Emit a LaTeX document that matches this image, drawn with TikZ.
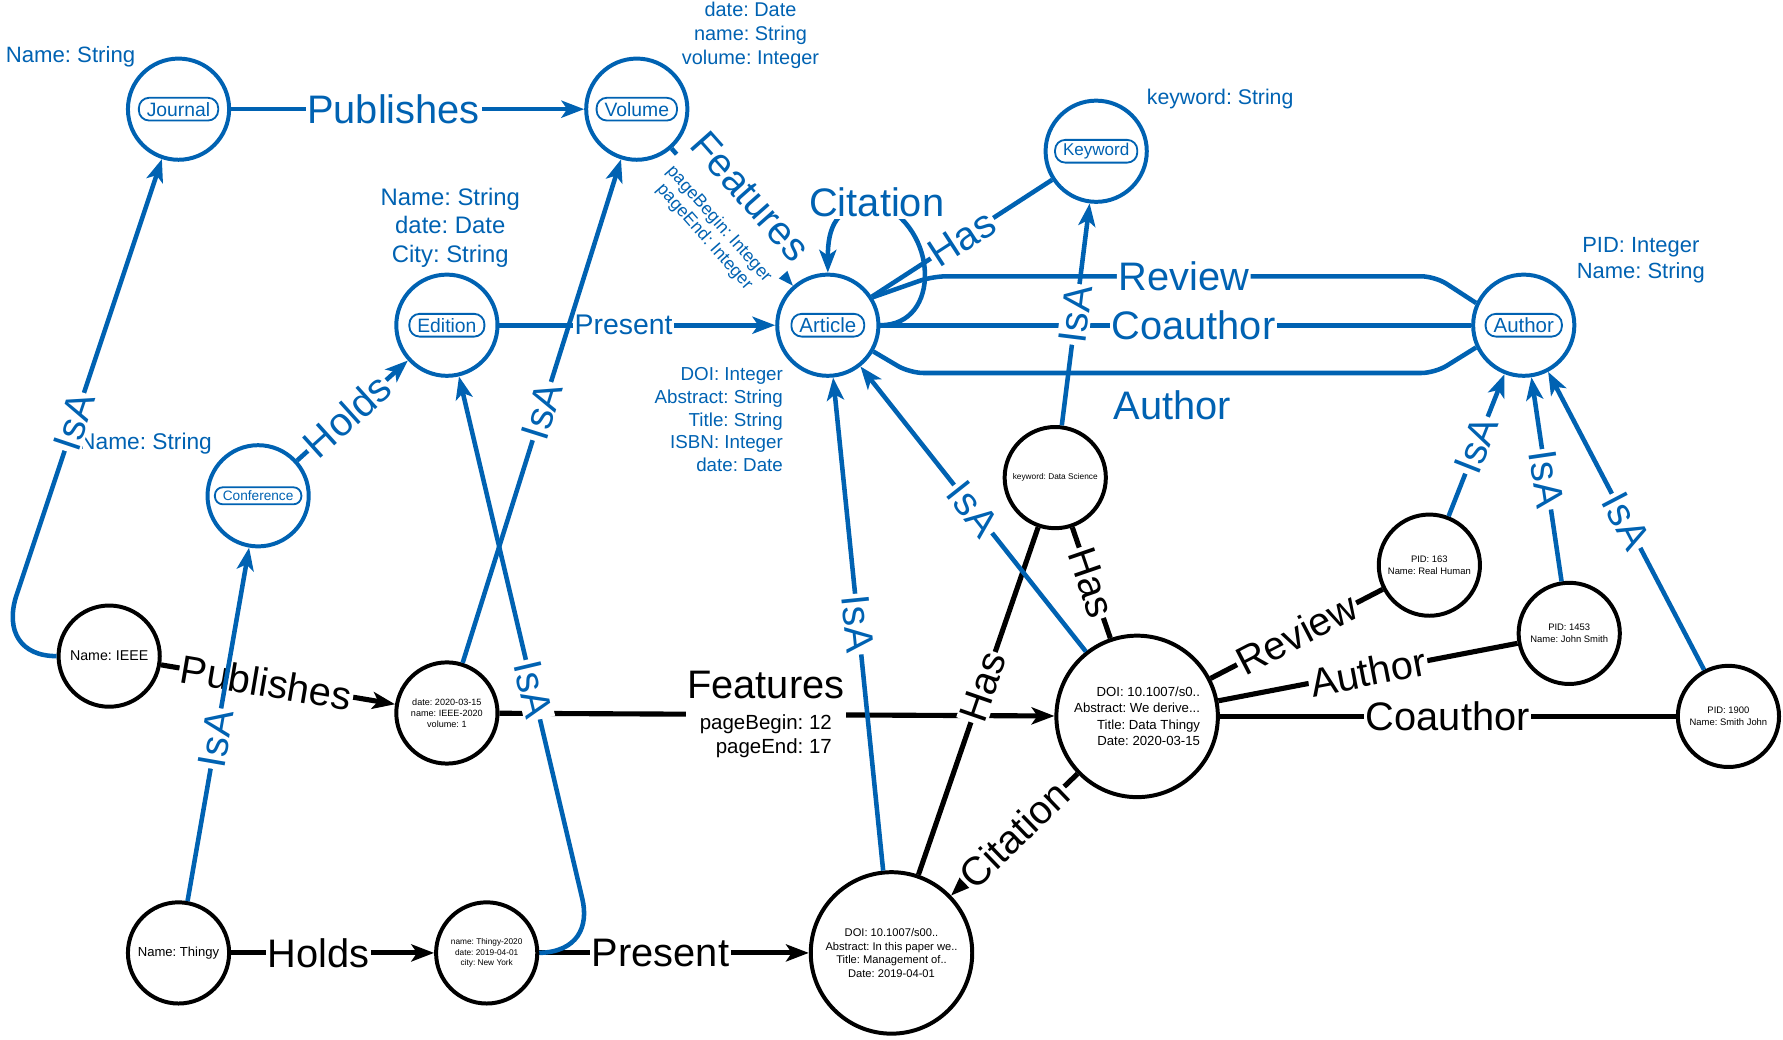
\documentclass[tikz,border=0pt]{standalone}
\usepackage{fontspec}
\setmainfont{Liberation Sans}
\frenchspacing
\usetikzlibrary{arrows.meta}
\definecolor{schemablue}{RGB}{0,98,178}
\newcommand{\fsz}[2]{\fontsize{#1}{#2}\selectfont}

\begin{document}
\begin{tikzpicture}[x=1pt,y=-1pt,
    schema/.style={circle,draw=schemablue,line width=3.5pt,minimum size=89pt,inner sep=0pt},
    inst/.style={circle,draw=black,line width=3.5pt,minimum size=89pt,inner sep=0pt,align=center},
    bigInst/.style={inst,minimum size=142pt},
    pill/.style={draw=schemablue,text=schemablue,rounded corners=9pt,line width=1.6pt,
        inner xsep=7pt,inner ysep=1.5pt,minimum height=20pt,font=\fsz{17}{17}},
    attr/.style={text=schemablue,align=center},
    blueLine/.style={schemablue,line width=4pt},
    blackLine/.style={black,line width=4.5pt},
    arr/.style={-{Stealth[length=20pt,width=15pt,inset=5pt]}},
    lbl/.style={fill=white,inner sep=1.5pt,font=\fsz{35}{38}},
    isa/.style={lbl,sloped}]
\useasboundingbox (0,0) rectangle (1568,914);

% schema nodes
\node [schema] (journal) at (157,96) {};
\node [pill] (journalTag) at (journal) {Journal};
\node [schema] (volume) at (560,96) {};
\node [pill] (volumeTag) at (volume) {Volume};
\node [schema] (keyword) at (964,133) {};
\node [pill,font=\fsz{15}{15}] (keywordTag) at (keyword) {Keyword};
\node [schema] (edition) at (393,286) {};
\node [pill] (editionTag) at (edition) {Edition};
\node [schema] (article) at (728,286) {};
\node [pill,font=\fsz{18}{18}] (articleTag) at (article) {Article};
\node [schema] (author) at (1340,286) {};
\node [pill,font=\fsz{18}{18}] (authorTag) at (author) {Author};
\node [schema] (conference) at (227,436) {};
\node [pill,font=\fsz{12}{12},rounded corners=7pt,minimum height=15pt] (conferenceTag) at (conference) {Conference};

% attributes
\node [attr,font=\fsz{19.5}{23}] (journalAttr) at (62,50) {Name: String};
\node [attr,font=\fsz{17.5}{21}] (volumeAttr) at (660,31) {date: Date\\name: String\\volume: Integer};
\node [attr,font=\fsz{21}{25}] (editionAttr) at (396,200) {Name: String\\date: Date\\City: String};
\node [attr,font=\fsz{20}{24}] (conferenceAttr) at (128,390) {Name: String};
\node [attr,font=\fsz{18.7}{22}] (keywordAttr) at (1073,87) {keyword: String};
\node [attr,font=\fsz{16.5}{20},align=right,anchor=east] (articleAttr) at (692,369) {DOI: Integer\\Abstract: String\\Title: String\\ISBN: Integer\\date: Date};
\node [attr,font=\fsz{19.3}{23}] (authorAttr) at (1443,229) {PID: Integer\\Name: String};

% instances
\node [inst,font=\fsz{12.5}{15}] (ieee) at (96,577) {Name: IEEE};
\node [inst,font=\fsz{8}{9.7}] (vol2020) at (393,627) {date: 2020-03-15\\name: IEEE-2020\\volume: 1};
\node [inst,font=\fsz{11.5}{14}] (thingy) at (157,838) {Name: Thingy};
\node [inst,font=\fsz{7.3}{9.5}] (thingy2020) at (428,838) {name: Thingy-2020\\date: 2019-04-01\\city: New York};
\node [bigInst,font=\fsz{9.8}{12}] (paperOld) at (784,838) {DOI: 10.1007/s00..\\Abstract: In this paper we..\\Title: Management of..\\Date: 2019-04-01};
\node [bigInst,font=\fsz{11.6}{14.5},align=right] (paperNew) at (1000,630) {DOI: 10.1007/s0..\\Abstract: We derive...\\Title: Data Thingy\\Date: 2020-03-15};
\node [inst,font=\fsz{7.3}{9}] (dataScience) at (928,420) {keyword: Data Science};
\node [inst,font=\fsz{8.3}{11}] (realHuman) at (1257,497) {PID: 163\\Name: Real Human};
\node [inst,font=\fsz{8.3}{11}] (johnSmith) at (1380,557) {PID: 1453\\Name: John Smith};
\node [inst,font=\fsz{8.3}{11}] (smithJohn) at (1520,630) {PID: 1900\\Name: Smith John};

% instance relations
\draw [blackLine,arr] (ieee) -- node[lbl,sloped,pos=0.45]{Publishes} (vol2020);
\draw [blackLine,arr] (vol2020) -- node[lbl,pos=0.48]{\begin{tabular}{@{}c@{}}Features\\
    \fsz{18}{21}\begin{tabular}{@{}r@{}}pageBegin: 12\\pageEnd: 17\end{tabular}\end{tabular}} (paperNew);
\draw [blackLine,arr] (thingy) -- node[lbl,pos=0.43]{Holds} (thingy2020);
\draw [blackLine,arr] (thingy2020) -- node[lbl,pos=0.45]{Present} (paperOld);
\draw [blackLine] (dataScience) -- node[lbl,sloped]{Has} (paperNew);
\draw [blackLine] (dataScience) -- node[lbl,sloped,pos=0.46]{Has} (paperOld);
\draw [blackLine,arr] (paperNew) -- node[lbl,sloped]{Citation} (paperOld);
\draw [blackLine] (paperNew) -- node[lbl,sloped]{Review} (realHuman);
\draw [blackLine] (paperNew) -- node[lbl,sloped]{Author} (johnSmith);
\draw [blackLine] (paperNew) -- node[lbl]{Coauthor} (smithJohn);

% schema relations
\draw [blueLine,arr] (journal) -- node[lbl,pos=0.46]{Publishes} (volume);
\draw [blueLine,arr] (edition) -- node[lbl,pos=0.45,font=\fsz{25}{28}]{Present} (article);
\draw [blueLine,arr] (volume) -- node[lbl,sloped,pos=0.48]{\begin{tabular}{@{}c@{}}Features\\
    \fsz{15.5}{17}\begin{tabular}{@{}c@{}}pageBegin: Integer\\pageEnd: Integer\end{tabular}\end{tabular}} (article);
\draw [blueLine,arr] (article.east) .. controls (828,286) and (826,200) .. (771,178)
    node[lbl] (citationLbl) {Citation} .. controls (735,180) and (728,200) .. (article.north);
\draw [blueLine,rounded corners=12pt] (article.32) -- (820,243) -- node[lbl]{Review} (1262,243) -- (author.155);
\draw [blueLine] (article) -- node[lbl,sloped]{Has} (keyword);
\draw [blueLine] (article) -- node[lbl,pos=0.53]{Coauthor} (author);
\draw [blueLine,rounded corners=12pt] (article.-30) -- (800,328) -- node[lbl,below=12pt]{Author} (1262,328) -- (author.-155);
\draw [blueLine,arr] (conference) -- node[lbl,sloped,pos=0.45]{Holds} (edition);

% IsA links
\draw [blueLine,arr] (dataScience) -- node[isa]{IsA} (keyword);
\draw [blueLine,arr] (realHuman) -- node[isa]{IsA} (author);
\draw [blueLine,arr] (johnSmith) -- node[isa]{IsA} (author);
\draw [blueLine,arr] (smithJohn) -- node[isa]{IsA} (author);
\draw [blueLine,arr] (paperNew) -- node[isa]{IsA} (article);
\draw [blueLine,arr] (paperOld) -- node[isa]{IsA} (article);
\draw [blueLine,arr] (vol2020) -- node[isa]{IsA} (volume);
\draw [blueLine,arr] (thingy2020.east) .. controls (508,837) and (518,815) .. (512,790) -- node[isa,pos=0.4]{IsA} (edition);
\draw [blueLine,arr] (thingy) -- node[isa,pos=0.46]{IsA} (conference);
\draw [blueLine,arr] (ieee.west) .. controls (18,577) and (5,555) .. (14,525) -- node[isa,pos=0.4]{IsA} (journal);
\end{tikzpicture}
\end{document}
